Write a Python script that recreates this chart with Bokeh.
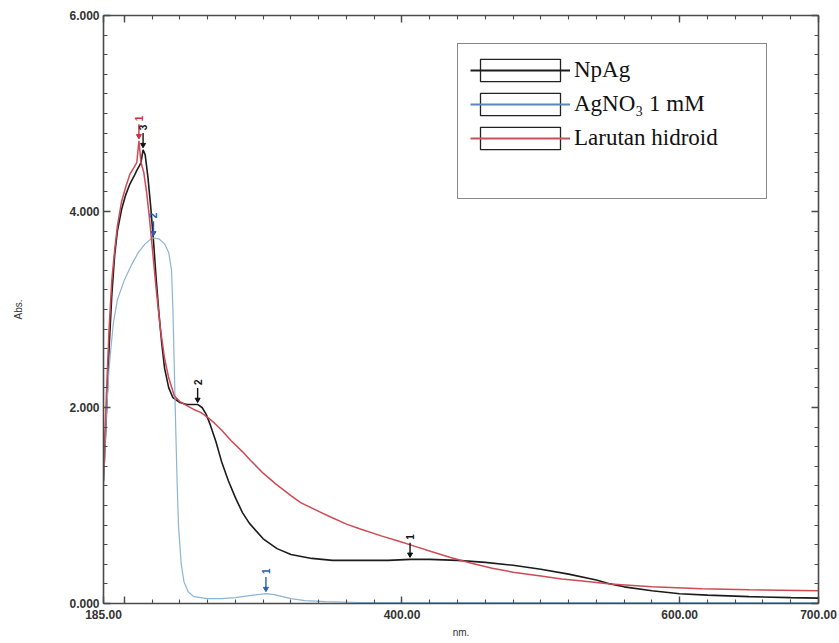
import math
from bokeh.plotting import figure
from bokeh.models import (Range1d, LinearAxis, FixedTicker, NumeralTickFormatter,
                          Legend, LegendItem, ColumnDataSource)
from bokeh.core.properties import value
from bokeh.embed import file_html
from bokeh.resources import INLINE

# ---------------- data ----------------
npag_nm = [185, 187, 189, 191, 193, 195, 198, 201, 204, 207, 209, 211, 212, 213.5, 215, 217, 219, 221, 223, 225,
           227, 229, 232, 235, 240, 245, 250, 253, 256, 259, 262, 266, 270, 275, 280, 285, 290, 300, 310, 320,
           335, 350, 370, 390, 406, 420, 440, 460, 480, 500, 520, 540, 550, 560, 580, 600, 620, 650, 680, 700]
npag_abs = [1.25, 1.9, 2.6, 3.15, 3.55, 3.8, 4.02, 4.17, 4.28, 4.36, 4.42, 4.47, 4.5, 4.63, 4.58, 4.35, 4.05, 3.7, 3.3, 2.95,
            2.65, 2.4, 2.2, 2.1, 2.05, 2.03, 2.03, 2.03, 2.0, 1.93, 1.82, 1.65, 1.45, 1.25, 1.08, 0.93, 0.82, 0.66, 0.56, 0.5,
            0.46, 0.44, 0.44, 0.44, 0.45, 0.45, 0.44, 0.42, 0.39, 0.35, 0.3, 0.24, 0.2, 0.17, 0.13, 0.1, 0.085, 0.07, 0.06, 0.055]

agno3_nm = [185, 187, 189, 192, 195, 200, 205, 210, 215, 220, 225, 229, 232, 234, 235, 236, 237, 238, 239, 241,
            243, 246, 250, 260, 270, 280, 290, 296, 302, 308, 314, 320, 330, 345, 370, 400, 500, 600, 700]
agno3_abs = [1.2, 1.9, 2.4, 2.85, 3.1, 3.3, 3.45, 3.58, 3.67, 3.73, 3.72, 3.67, 3.58, 3.4, 3.0, 2.4, 1.8, 1.25, 0.8, 0.4,
             0.22, 0.12, 0.07, 0.05, 0.05, 0.06, 0.08, 0.09, 0.1, 0.09, 0.07, 0.05, 0.03, 0.02, 0.01, 0.01, 0.01, 0.01, 0.01]

hidroid_nm = [185, 187, 189, 191, 193, 195, 198, 201, 204, 207, 209, 210.5, 212, 214, 216, 218, 220, 223, 226, 229,
              232, 236, 240, 245, 250, 255, 260, 265, 270, 277, 285, 291, 300, 309, 320, 327, 340, 349, 360, 370,
              385, 399, 410, 421, 435, 450, 465, 480, 500, 515, 530, 550, 580, 616, 650, 700]
hidroid_abs = [1.3, 2.1, 2.8, 3.3, 3.6, 3.85, 4.1, 4.25, 4.38, 4.45, 4.5, 4.72, 4.5, 4.4, 4.2, 3.95, 3.65, 3.2, 2.8, 2.5,
               2.3, 2.12, 2.06, 2.02, 1.98, 1.95, 1.9, 1.84, 1.77, 1.66, 1.55, 1.46, 1.33, 1.22, 1.1, 1.03, 0.94, 0.88, 0.81, 0.76,
               0.69, 0.63, 0.58, 0.53, 0.47, 0.41, 0.36, 0.32, 0.28, 0.25, 0.23, 0.2, 0.17, 0.15, 0.14, 0.13]

series_names = ["NpAg", "AgNO\u2083 1 mM", "Larutan hidroid"]

# peak picks
peak_nm = [213.5, 252.8, 405.8, 210.5, 221.0, 302.0]
peak_abs = [4.63, 2.03, 0.45, 4.72, 3.73, 0.10]
peak_label = ["3", "2", "1", "1", "2", "1"]
peak_series = [0, 0, 0, 2, 1, 1]

x_tick_labels = {185: "185.00", 200: "", 400: "400.00", 600: "600.00", 700: "700.00"}
y_tick_values = [0, 2, 4, 6]

# ---------------- styles ----------------
line_colors = ["#1c1c1c", "#8db4d2", "#cf4a55"]
legend_colors = ["#1c1c1c", "#5b86b8", "#c8505a"]
mark_colors = ["#111111", "#2b5fb4", "#d0303c"]
axis_col = "#4a4a4a"
label_col = "#333333"

p = figure(width=839, height=643, output_backend="svg", toolbar_location=None,
           x_range=Range1d(185, 700), y_range=Range1d(0, 6),
           min_border_left=103, min_border_right=21, min_border_top=15, min_border_bottom=40,
           x_axis_type=None, y_axis_type=None)
p.grid.visible = False
p.outline_line_color = None
p.background_fill_color = "white"

xt = sorted(x_tick_labels.keys())
x_minor = list(range(200, 701, 20))
y_minor = [round(i * 0.2, 1) for i in range(31)]


def style_axis(ax, show_labels):
    ax.axis_line_color = axis_col
    ax.axis_line_width = 1.6
    ax.major_tick_line_color = axis_col
    ax.minor_tick_line_color = axis_col
    ax.major_tick_line_width = 1.4
    ax.minor_tick_line_width = 1.1
    ax.major_tick_in = 7
    ax.major_tick_out = 0
    ax.minor_tick_in = 4
    ax.minor_tick_out = 0
    if show_labels:
        ax.major_label_text_font = "Liberation Sans"
        ax.major_label_text_font_size = "12px"
        ax.major_label_text_font_style = "bold"
        ax.major_label_text_color = label_col
        ax.axis_label_text_font = "Liberation Sans"
        ax.axis_label_text_font_size = "10px"
        ax.axis_label_text_font_style = "normal"
        ax.axis_label_text_color = label_col
    else:
        ax.major_label_text_font_size = "0px"
        ax.major_label_standoff = 0


xb = LinearAxis(ticker=FixedTicker(ticks=xt, minor_ticks=x_minor), axis_label="nm.",
                major_label_overrides={k: v for k, v in x_tick_labels.items()})
style_axis(xb, True)
xb.major_label_standoff = 6
xb.axis_label_standoff = 5
p.add_layout(xb, "below")

xtop = LinearAxis(ticker=FixedTicker(ticks=xt, minor_ticks=x_minor),
                  major_label_overrides={k: "" for k in xt})
style_axis(xtop, False)
p.add_layout(xtop, "above")

yl = LinearAxis(ticker=FixedTicker(ticks=y_tick_values, minor_ticks=y_minor), axis_label="Abs.",
                formatter=NumeralTickFormatter(format="0.000"))
style_axis(yl, True)
yl.major_label_standoff = 4
yl.axis_label_standoff = 42
p.add_layout(yl, "left")

yr = LinearAxis(ticker=FixedTicker(ticks=y_tick_values, minor_ticks=y_minor),
                major_label_overrides={k: "" for k in y_tick_values})
style_axis(yr, False)
p.add_layout(yr, "right")

# ---------------- curves ----------------
xs_all = [npag_nm, agno3_nm, hidroid_nm]
ys_all = [npag_abs, agno3_abs, hidroid_abs]
widths = [1.6, 1.2, 1.5]
curve_r = []
for xs, ys, c, w in zip(xs_all, ys_all, line_colors, widths):
    curve_r.append(p.line(xs, ys, line_color=c, line_width=w))

# ---------------- peak markers ----------------
pk = ColumnDataSource(dict(
    x=peak_nm,
    y0=[a + 0.03 for a in peak_abs],
    y1=[a + 0.17 for a in peak_abs],
    ya=[a + 0.05 for a in peak_abs],
    yt=[a + 0.20 for a in peak_abs],
    t=peak_label,
    c=[mark_colors[s] for s in peak_series],
))
p.segment(x0="x", y0="y0", x1="x", y1="y1", source=pk, line_color="c", line_width=1.4)
p.scatter(x="x", y="ya", source=pk, marker="inverted_triangle", size=5, fill_color="c", line_color="c")
p.text(x="x", y="yt", text="t", source=pk, angle=math.pi / 2, text_color="c",
       text_font=value("Liberation Sans"), text_font_size="10px", text_font_style="bold",
       text_align="left", text_baseline="middle")

# ---------------- legend ----------------
items = []
for i, name in enumerate(series_names):
    box = p.rect(x=[float("nan")], y=[float("nan")], width=1, height=1,
                 fill_color="white", line_color="#222222", line_width=1.3)
    ln = p.line(x=[float("nan")], y=[float("nan")], line_color=legend_colors[i], line_width=2)
    items.append(LegendItem(label=name, renderers=[box, ln]))
blank = p.line(x=[float("nan")], y=[float("nan")], line_alpha=0)
items.append(LegendItem(label=" ", renderers=[blank]))

leg = Legend(items=items, location=(354, 404))
leg.border_line_color = "#111111"
leg.border_line_width = 1.5
leg.background_fill_color = "white"
leg.background_fill_alpha = 1.0
leg.padding = 12
leg.margin = 0
leg.spacing = 6
leg.glyph_width = 100
leg.glyph_height = 28
leg.label_height = 28
leg.label_width = 180
leg.label_standoff = 4
leg.label_text_font = "Liberation Serif"
leg.label_text_font_size = "23px"
leg.label_text_color = "#111111"
p.add_layout(leg, "center")

open("out.html", "w").write(file_html(p, INLINE))
